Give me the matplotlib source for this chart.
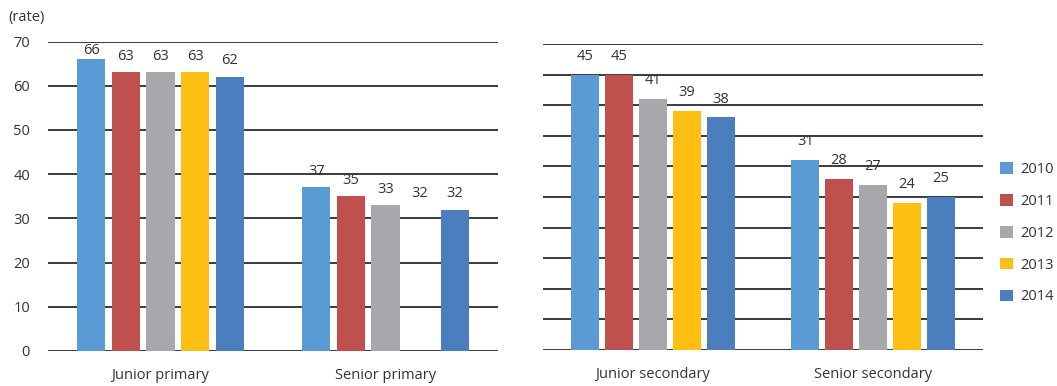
import numpy as np
import matplotlib.pyplot as plt
from matplotlib.patches import Patch

years = ["2010", "2011", "2012", "2013", "2014"]
colors = ["#5B9BD5", "#C0504D", "#A7A8AB", "#FCBF12", "#4A7EBE"]

primary_cats = ["Junior primary", "Senior primary"]
primary_vals = {
    "2010": [66, 37],
    "2011": [63, 35],
    "2012": [63, 33],
    "2013": [63, 32],
    "2014": [62, 32],
}
secondary_cats = ["Junior secondary", "Senior secondary"]
secondary_vals = {
    "2010": [45, 31],
    "2011": [45, 28],
    "2012": [41, 27],
    "2013": [39, 24],
    "2014": [38, 25],
}
# bar that is absent in the source picture (label still shown)
hidden = [("Senior primary", "2013")]

plt.rcParams["font.family"] = ["Open Sans", "DejaVu Sans"]
fs = 10.5
txt = "#333333"

fig = plt.figure(figsize=(10.57, 3.86), dpi=100)
ax1 = fig.add_axes([48/1057, 1-351/386, 450/1057, 309.5/386])
ax2 = fig.add_axes([543/1057, 1-350/386, 440/1057, 306/386])


def draw(ax, cats, vals, ymax, step, label_off, label_cap, show_ticks):
    x = np.arange(len(cats))
    width = 0.126
    gap = 0.154
    for i, yr in enumerate(years):
        pos = x + (i - 2) * gap
        bars = ax.bar(pos, vals[yr], width, color=colors[i], zorder=3)
        for j, b in enumerate(bars):
            v = vals[yr][j]
            if (cats[j], yr) in hidden:
                b.set_visible(False)
            ty = min(v + label_off, label_cap)
            ax.text(pos[j], ty, str(v), ha="center", va="center",
                    fontsize=fs, color=txt, clip_on=False)
    ax.set_xlim(-0.5, 1.5)
    ax.set_ylim(0, ymax)
    ax.set_yticks(np.arange(0, ymax + 0.1, step))
    ax.yaxis.grid(True, color="#2b2b2b", linewidth=1.3, zorder=0)
    ax.set_axisbelow(True)
    for s in ax.spines.values():
        s.set_visible(False)
    ax.set_xticks(x)
    ax.set_xticklabels(cats, fontsize=fs, color=txt)
    ax.tick_params(axis="x", length=0, pad=12)
    ax.tick_params(axis="y", length=0, pad=13, labelsize=fs, labelcolor=txt)
    if not show_ticks:
        ax.set_yticklabels([])


draw(ax1, primary_cats, primary_vals, 70, 10, 3.6, 68, True)
draw(ax2, secondary_cats, secondary_vals, 50, 5, 3.0, 49, False)

fig.text(8/1057, 1-17/386, "(rate)", fontsize=fs, color=txt, va="center")

handles = [Patch(facecolor=c) for c in colors]
fig.legend(handles, years, loc="upper left", bbox_to_anchor=(993/1057, 1-155/386),
           frameon=False, fontsize=fs, handlelength=0.85, handleheight=0.85,
           handletextpad=0.5, labelspacing=1.15, borderpad=0, labelcolor=txt)

fig.savefig("out.png", dpi=100)
